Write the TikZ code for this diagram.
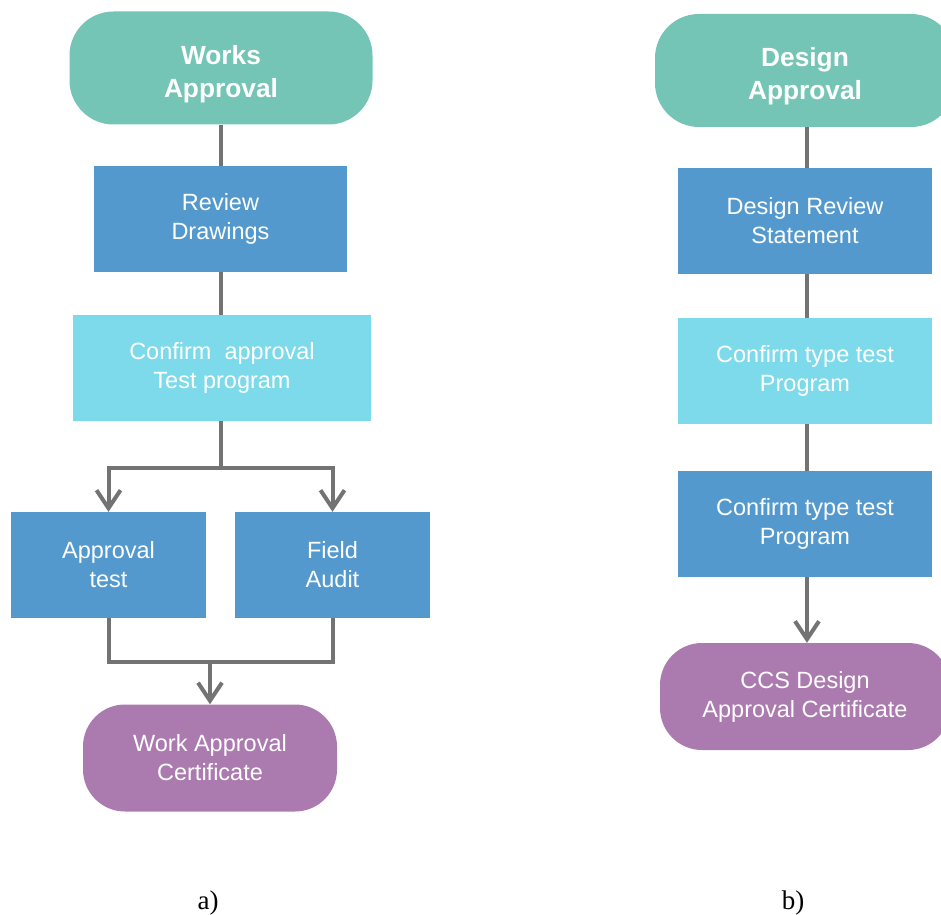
\documentclass[tikz,border=0pt]{standalone}
\usepackage{fontspec}
\setmainfont{Liberation Sans}
\newfontfamily\labelfont{Liberation Serif}
\usetikzlibrary{arrows.meta}
\definecolor{termteal}{HTML}{74C5B5}
\definecolor{stepblue}{HTML}{5499CD}
\definecolor{steplight}{HTML}{7DDAEB}
\definecolor{certpurple}{HTML}{AB7BAF}
\definecolor{linkgray}{HTML}{737373}
\newcommand{\titlestrut}{\rule{0pt}{31pt}}
\tikzset{
  base/.style={inner sep=0pt, align=center, text=white,
    font=\fontsize{23.5}{29}\selectfont},
  startbox/.style={base, fill=termteal, rounded corners=44pt,
    minimum height=113pt, font=\fontsize{26.3}{33}\selectfont\bfseries},
  stepbox/.style={base, fill=stepblue, minimum height=106pt},
  lightbox/.style={base, fill=steplight, minimum height=106pt},
  certbox/.style={base, fill=certpurple, rounded corners=42pt,
    minimum height=107pt},
  link/.style={draw=linkgray, line width=4pt, line join=miter},
  arrowlink/.style={link, -{Straight Barb[length=18pt,width=24pt]}},
  caption/.style={font=\labelfont\fontsize{27}{30}\selectfont}
}
\begin{document}
\begin{tikzpicture}[x=1pt,y=1pt]
\useasboundingbox (0,0) rectangle (941,914);
\clip (0,0) rectangle (941,914);

% (a) works approval flow
\node[startbox, minimum width=303pt] (wa) at (221,846) {\titlestrut Works\\Approval};
\node[stepbox, minimum width=253pt] (rd) at (220.5,695) {Review\\Drawings};
\node[lightbox, minimum width=298pt] (ca) at (222,546) {Confirm~ approval\\Test program};
\node[stepbox, minimum width=195pt] (at) at (108.5,349) {Approval\\test};
\node[stepbox, minimum width=195pt] (fa) at (332.5,349) {Field\\Audit};
\node[certbox, minimum width=254pt] (wac) at (210,156) {Work Approval\\Certificate};
\node[caption] (capa) at (208,11) {a)};

\coordinate (split) at (221,446);
\coordinate (merge) at (210,252);

\draw[link] (wa.south -| split) -- (rd.north -| split);
\draw[link] (rd.south -| split) -- (ca.north -| split);
\draw[link] (ca.south -| split) -- (split);
\draw[arrowlink] (split) -| (at.north);
\draw[arrowlink] (split) -| (fa.north);
\draw[link] (at.south) |- (merge) -| (fa.south);
\draw[arrowlink] (merge) -- (wac.north);

% (b) design approval flow
\node[startbox, minimum width=300pt] (da) at (805,843.5) {\titlestrut Design\\Approval};
\node[stepbox, minimum width=254pt] (drs) at (805,693) {Design Review\\Statement};
\node[lightbox, minimum width=254pt] (ct1) at (805,543) {Confirm type test\\Program};
\node[stepbox, minimum width=254pt] (ct2) at (805,390) {Confirm type test\\Program};
\node[certbox, minimum width=290pt] (ccs) at (805,217.5) {CCS Design\\Approval Certificate};
\node[caption] (capb) at (793,11) {b)};

\draw[link] ([xshift=2pt]da.south) -- ([xshift=2pt]drs.north);
\draw[link] ([xshift=2pt]drs.south) -- ([xshift=2pt]ct1.north);
\draw[link] ([xshift=2pt]ct1.south) -- ([xshift=2pt]ct2.north);
\draw[arrowlink] ([xshift=2pt]ct2.south) -- ([xshift=2pt]ccs.north);
\end{tikzpicture}
\end{document}
